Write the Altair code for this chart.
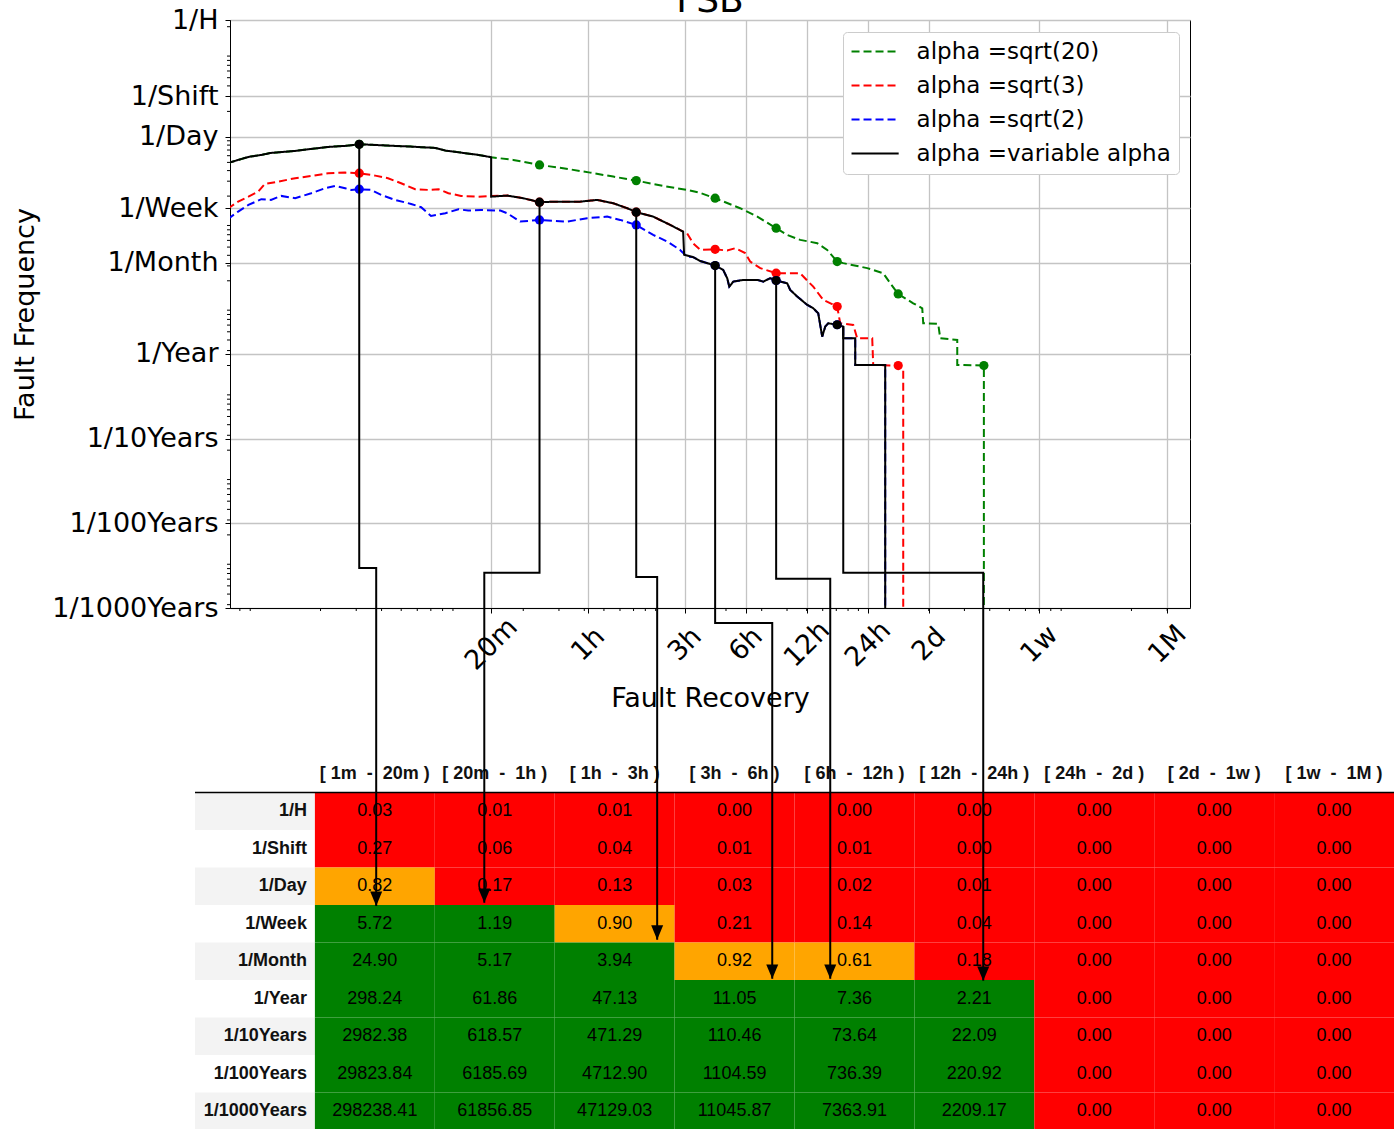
import altair as alt
import pandas as pd

# ---------------- data ----------------
series_names = ["alpha =sqrt(20)", "alpha =sqrt(3)", "alpha =sqrt(2)", "alpha =variable alpha"]
series_colors = ["#008000", "#ff0000", "#0000ff", "#000000"]

# recovery time in minutes, fault frequency in faults per year
green_t = [1.0, 1.13, 1.27, 1.47, 1.64, 2.16, 2.59, 3.14, 3.81, 4.47, 4.94, 6.72, 8.06, 10.6, 11.9,
           14.2, 17.3, 20.0, 25.7, 34.64, 45.3, 61.6, 80.0, 103.9, 141, 185, 215, 254.6, 338, 411,
           509.1, 577, 669, 812, 909, 1018.2, 1091, 1432, 1718, 1860, 2036, 2416, 2676, 2706, 3208,
           3282, 3982, 3982, 5388, 5388]
green_f = [178.4, 195.2, 211.8, 223.6, 236.1, 249.3, 263.2, 277.9, 285.6, 298.24, 295.8, 285.6, 280.3,
           270.4, 251.3, 238.1, 223.6, 210.1, 195.2, 170.3, 155.7, 138.2, 124.0, 111.2, 96.3, 86.4,
           79.6, 68.9, 52.5, 41.8, 30.5, 25.4, 22.2, 20.3, 16.9, 12.3, 11.8, 10.3, 8.97, 6.83, 5.11,
           3.96, 3.46, 2.30, 2.26, 1.53, 1.46, 0.741, 0.73, 0.0001]

red_t = [1.0, 1.13, 1.27, 1.42, 1.53, 1.78, 2.16, 2.59, 3.14, 3.81, 4.47, 5.36, 6.20, 7.19, 8.44,
         9.78, 11.0, 12.3, 14.2, 17.3, 20.0, 24.0, 28.8, 34.64, 42.3, 55.0, 66.7, 80.0, 93.8, 103.9,
         126, 153, 177, 185, 198, 215, 254.6, 292, 320, 358, 379, 425, 509.1, 597, 669, 733, 776,
         869, 1018.2, 1054, 1222, 1278, 1516, 1533, 2036, 2156, 2156]
red_f = [51.5, 62.8, 71.9, 82.5, 101.6, 108.2, 118.7, 126.3, 135.9, 138.2, 136.0, 127.4, 118.7, 103.6,
         88.0, 86.4, 88.0, 78.9, 73.4, 71.9, 73.4, 74.0, 68.9, 61.86, 62.8, 62.8, 65.8, 60.1, 52.5,
         47.13, 41.8, 33.3, 27.8, 26.6, 20.3, 16.9, 17.2, 16.6, 17.7, 15.5, 12.3, 10.3, 8.97, 8.97,
         8.97, 7.14, 6.23, 4.34, 3.62, 2.30, 2.20, 1.53, 1.53, 0.741, 0.728, 0.678, 0.0001]

blue_t = [1.0, 1.13, 1.27, 1.47, 1.64, 1.84, 2.16, 2.59, 3.03, 3.40, 3.81, 4.08, 4.47, 5.12, 5.73,
          6.72, 8.06, 9.03, 10.1, 11.9, 13.8, 15.4, 17.9, 22.2, 24.0, 27.8, 34.64, 47.4, 59.5, 74.7,
          86.6, 103.9, 126, 148, 171, 185, 198, 215, 254.6, 279, 292, 299, 313, 350, 411, 440, 476,
          509.1, 577, 597, 647, 725, 776, 821, 859, 889, 920, 1018.2, 1091, 1091, 1250, 1250, 1757,
          1757]
blue_f = [38.9, 47.9, 57.4, 67.1, 65.8, 73.4, 68.9, 78.9, 90.4, 96.3, 90.4, 86.4, 88.0, 86.4, 75.4,
          65.8, 59.0, 54.0, 42.6, 45.8, 51.1, 49.2, 50.1, 49.2, 45.8, 36.5, 38.2, 36.5, 40.0, 41.8,
          38.2, 33.3, 25.4, 21.2, 16.9, 14.1, 13.9, 12.5, 11.05, 9.81, 7.83, 6.23, 7.14, 7.48, 7.48,
          7.14, 7.83, 7.36, 6.83, 5.70, 4.75, 3.79, 3.46, 3.02, 1.60, 2.10, 2.30, 2.21, 2.10, 1.53,
          1.53, 0.741, 0.741, 0.0001]

black_t = [1.0, 1.13, 1.27, 1.47, 1.64, 2.16, 2.59, 3.14, 3.81, 4.47, 4.94, 6.72, 8.06, 10.6, 11.9,
           14.2, 17.3, 20.0, 20.0, 24.0, 28.8, 34.64, 42.3, 55.0, 66.7, 80.0, 93.8, 103.9, 126, 153,
           177, 179, 198, 215, 254.6, 279, 292, 299, 313, 350, 411, 440, 476, 509.1, 577, 597, 647,
           725, 776, 821, 859, 889, 920, 1018.2, 1091, 1091, 1250, 1250, 1757, 1757]
black_f = [178.4, 195.2, 211.8, 223.6, 236.1, 249.3, 263.2, 277.9, 285.6, 298.24, 295.8, 285.6, 280.3,
           270.4, 251.3, 238.1, 223.6, 210.1, 71.9, 74.0, 68.9, 61.86, 62.8, 62.8, 65.8, 60.1, 52.5,
           47.13, 41.8, 33.3, 27.8, 14.8, 13.9, 12.5, 11.05, 9.81, 7.83, 6.23, 7.14, 7.48, 7.48, 7.14,
           7.83, 7.36, 6.83, 5.70, 4.75, 3.79, 3.46, 3.02, 1.60, 2.10, 2.30, 2.21, 2.10, 1.53, 1.53,
           0.741, 0.741, 0.0001]

# markers at the interval mid-points
point_t = [4.47, 34.64, 103.9, 254.6, 509.1, 1018.2, 2036, 5388]
green_pts = [298.24, 170.3, 111.2, 68.9, 30.5, 12.3, 5.11, 0.73]
red_pts = [136.0, 61.86, 47.13, 17.2, 8.97, 3.62, 0.728]
blue_pts = [88.0, 38.2, 33.3, 11.05, 7.36, 2.21]
black_pts = [298.24, 61.86, 47.13, 11.05, 7.36, 2.21]

# arrows from the variable-alpha markers down into the table
arrow_t = [[4.47, 4.47, 5.42, 5.42],
           [34.64, 34.64, 18.5, 18.5],
           [103.9, 103.9, 131.8, 131.8],
           [254.6, 254.6, 487, 487],
           [509.1, 509.1, 941, 941],
           [1091, 1091, 5349, 5349]]
arrow_f = [[298.24, 0.00297, 0.00297, 3.04e-7],
           [61.86, 0.0026, 0.0026, 3.30e-7],
           [47.13, 0.00233, 0.00233, 1.21e-7],
           [11.05, 0.000667, 0.000667, 4.18e-8],
           [7.36, 0.00221, 0.00221, 4.18e-8],
           [2.14, 0.0026, 0.0026, 3.96e-8]]

xtick_values = [20, 60, 180, 360, 720, 1440, 2880, 10080, 43200]
xtick_labels = ["20m", "1h", "3h", "6h", "12h", "24h", "2d", "1w", "1M"]
ytick_values = [8760, 1095, 365, 52.14, 12, 1, 0.1, 0.01, 0.001]
ytick_labels = ["1/H", "1/Shift", "1/Day", "1/Week", "1/Month", "1/Year", "1/10Years",
                "1/100Years", "1/1000Years"]

table_rows = ["1/H", "1/Shift", "1/Day", "1/Week", "1/Month", "1/Year", "1/10Years",
              "1/100Years", "1/1000Years"]
table_cols = ["[ 1m  -  20m )", "[ 20m  -  1h )", "[ 1h  -  3h )", "[ 3h  -  6h )",
              "[ 6h  -  12h )", "[ 12h  -  24h )", "[ 24h  -  2d )", "[ 2d  -  1w )", "[ 1w  -  1M )"]
table_values = [
    [0.03, 0.01, 0.01, 0.00, 0.00, 0.00, 0.00, 0.00, 0.00],
    [0.27, 0.06, 0.04, 0.01, 0.01, 0.00, 0.00, 0.00, 0.00],
    [0.82, 0.17, 0.13, 0.03, 0.02, 0.01, 0.00, 0.00, 0.00],
    [5.72, 1.19, 0.90, 0.21, 0.14, 0.04, 0.00, 0.00, 0.00],
    [24.90, 5.17, 3.94, 0.92, 0.61, 0.18, 0.00, 0.00, 0.00],
    [298.24, 61.86, 47.13, 11.05, 7.36, 2.21, 0.00, 0.00, 0.00],
    [2982.38, 618.57, 471.29, 110.46, 73.64, 22.09, 0.00, 0.00, 0.00],
    [29823.84, 6185.69, 4712.90, 1104.59, 736.39, 220.92, 0.00, 0.00, 0.00],
    [298238.41, 61856.85, 47129.03, 11045.87, 7363.91, 2209.17, 0.00, 0.00, 0.00],
]

# minor log ticks (2..9 x 10^k in days for time, per day for frequency)
MIN_PER_DAY = 1440
DAYS_PER_YEAR = 365
xminor = [m * 10.0 ** k * MIN_PER_DAY for k in range(-4, 2) for m in range(2, 10)
          if 1.03 <= m * 10.0 ** k * MIN_PER_DAY <= 56000]
yminor = [m * 10.0 ** k * DAYS_PER_YEAR for k in range(-6, 2) for m in range(2, 10)
          if 0.001 <= m * 10.0 ** k * DAYS_PER_YEAR <= 8760]

# ---------------- frames ----------------
NB = "\u00a0"
col_keys = [c.replace(" ", NB) for c in table_cols]

line_rows = []
for name, ts, fs in zip(series_names, [green_t, red_t, blue_t, black_t],
                        [green_f, red_f, blue_f, black_f]):
    for i, (t, f) in enumerate(zip(ts, fs)):
        line_rows.append({"series": name, "i": i, "t": t, "f": f})
lines_df = pd.DataFrame(line_rows)

pt_rows = []
for name, fs in zip(series_names, [green_pts, red_pts, blue_pts, black_pts]):
    for t, f in zip(point_t, fs):
        pt_rows.append({"series": name, "t": t, "f": f})
pts_df = pd.DataFrame(pt_rows)

arr_rows = []
for k, (ts, fs) in enumerate(zip(arrow_t, arrow_f)):
    for i, (t, f) in enumerate(zip(ts, fs)):
        arr_rows.append({"arrow": k, "i": i, "t": t, "f": f})
arr_df = pd.DataFrame(arr_rows)
head_df = arr_df[arr_df["i"] == 3]

cell_rows = []
for r, vals in zip(table_rows, table_values):
    for c, v in zip(col_keys, vals):
        cell_rows.append({"row": r, "col": c, "v": v})
cells_df = pd.DataFrame(cell_rows)
header_df = pd.DataFrame({"row": ["header"] * len(col_keys), "col": col_keys})
rowlab_df = pd.DataFrame({"row": table_rows, "col": ["label"] * len(table_rows),
                          "k": list(range(len(table_rows)))})

# ---------------- scales / axes ----------------
xscale = alt.Scale(type="log", domain=[1.03, 56000], nice=False)
yscale = alt.Scale(type="log", domain=[0.001, 8760], nice=False)
cscale = alt.Scale(domain=series_names, range=series_colors)
dscale = alt.Scale(domain=series_names, range=[[8, 4], [8, 4], [8, 4], [1, 0]])

xexpr = "[" + ",".join("'%s'" % l for l in xtick_labels) + "][indexof([" + \
        ",".join(repr(v) for v in xtick_values) + "], datum.value)]"
yexpr = "[" + ",".join("'%s'" % l for l in ytick_labels) + "][indexof([" + \
        ",".join(repr(v) for v in ytick_values) + "], datum.value)]"

FONT = "DejaVu Sans"
xaxis = alt.Axis(orient="bottom", values=xtick_values, labelExpr=xexpr, labelAngle=315,
                 labelAlign="center", labelBaseline="middle", labelPadding=31, tickSize=5,
                 labelFontSize=27, labelFont=FONT, labelOverlap=False, labelFlush=False,
                 grid=True, gridColor="#c4c4c4", gridWidth=1.3, domainColor="black",
                 tickColor="black", labelColor="black", title="Fault Recovery",
                 titleFontSize=27, titleFont=FONT, titleFontWeight="normal", titleY=90,
                 titleBaseline="middle", titleColor="black")
yaxis = alt.Axis(orient="left", values=ytick_values, labelExpr=yexpr, tickSize=5, labelPadding=7,
                 labelFontSize=27, labelFont=FONT, labelOverlap=False, grid=True,
                 gridColor="#c4c4c4", gridWidth=1.3, domainColor="black", tickColor="black",
                 labelColor="black", title="Fault Frequency", titleFontSize=27, titleFont=FONT,
                 titleFontWeight="normal", titleAngle=270, titleX=-205, titleY=294,
                 titleAlign="center", titleBaseline="middle", titleColor="black")

legend = alt.Legend(title=None, orient="none", legendX=613, legendY=12,
                    symbolType="M-4,0H4", symbolSize=139, symbolOffset=12.6,
                    symbolStrokeWidth=2, labelFontSize=23, labelFont=FONT, labelColor="black",
                    labelOffset=30, labelLimit=400, padding=8, rowPadding=10, fillColor="white",
                    strokeColor="#cccccc", cornerRadius=4)

X = alt.X("t:Q", scale=xscale, axis=xaxis)
Y = alt.Y("f:Q", scale=yscale, axis=yaxis)

layers = []
for name in series_names:
    layers.append(
        alt.Chart(lines_df).transform_filter(alt.datum.series == name)
        .mark_line(strokeWidth=2, clip=True)
        .encode(x=X, y=Y,
                color=alt.Color("series:N", scale=cscale, legend=legend),
                strokeDash=alt.StrokeDash("series:N", scale=dscale, legend=legend),
                order=alt.Order("i:Q"))
    )
for name in series_names:
    layers.append(
        alt.Chart(pts_df).transform_filter(alt.datum.series == name)
        .mark_circle(size=85, opacity=1, clip=True)
        .encode(x=X, y=Y, color=alt.Color("series:N", scale=cscale, legend=None))
    )
# minor ticks
layers.append(
    alt.Chart(pd.DataFrame({"t": xminor})).mark_rule(color="black", strokeWidth=1)
    .encode(x=X, y=alt.value(588), y2=alt.value(591))
)
layers.append(
    alt.Chart(pd.DataFrame({"f": yminor})).mark_rule(color="black", strokeWidth=1)
    .encode(y=Y, x=alt.value(0), x2=alt.value(-3))
)
layers.append(
    alt.Chart(arr_df).mark_line(color="black", strokeWidth=2, clip=False)
    .encode(x=X, y=Y, detail="arrow:N", order=alt.Order("i:Q"))
)
layers.append(
    alt.Chart(head_df).mark_point(shape="M0,0L-0.5,-1.2L0.5,-1.2Z", filled=True, size=576,
                                  color="black", opacity=1, clip=False)
    .encode(x=X, y=Y)
)
layers.append(
    alt.Chart(pd.DataFrame({"title": ["FSB"]}))
    .mark_text(font=FONT, fontSize=36, baseline="alphabetic", align="center", color="black")
    .encode(text="title:N", x=alt.value(480), y=alt.value(-8))
)
plot = alt.layer(*layers)

# ---------------- table ----------------
tx = alt.Scale(type="band", domain=["label"] + col_keys, range=[-35, 1164],
               paddingInner=0, paddingOuter=0)
ty = alt.Scale(type="band", domain=["header"] + table_rows, range=[735, 1110],
               paddingInner=0, paddingOuter=0)
TX = alt.X("col:N", scale=tx, axis=None)
TY = alt.Y("row:N", scale=ty, axis=None)

cells = alt.Chart(cells_df).mark_rect().encode(
    x=TX, y=TY,
    fill=alt.Fill("v:Q", scale=alt.Scale(type="threshold", domain=[0.5, 1],
                                          range=["#ff0000", "#ffa500", "#008000"]), legend=None))
cell_text = alt.Chart(cells_df).mark_text(font="Liberation Sans", fontSize=18, color="black").encode(
    x=TX, y=TY, text=alt.Text("v:Q", format=".2f"))
label_bg = alt.Chart(rowlab_df).transform_filter("datum.k % 2 == 0").mark_rect(color="#f3f3f3").encode(
    x=TX, y=TY)
label_text = alt.Chart(rowlab_df).mark_text(font="Liberation Sans", fontSize=18, fontWeight="bold",
                                            align="right", dx=-8, color="#111111").encode(
    x=alt.X("col:N", scale=tx, axis=None, bandPosition=1), y=TY, text="row:N")
header_text = alt.Chart(header_df).mark_text(font="Liberation Sans", fontSize=18, fontWeight="bold",
                                             color="#111111").encode(
    x=TX, y=TY, text="col:N")
header_rule = alt.Chart(pd.DataFrame({"row": [table_rows[0]]})).mark_rule(
    color="black", strokeWidth=1.5).encode(
    x=alt.value(-35), x2=alt.value(1180),
    y=alt.Y("row:N", scale=ty, axis=None, bandPosition=0))

table = alt.layer(label_bg, cells, cell_text, label_text, header_text, header_rule)

chart = alt.layer(table, plot).resolve_scale(x="independent", y="independent").properties(
    width=960, height=588,
    autosize=alt.AutoSizeParams(type="none"),
    padding={"left": 230, "top": 20, "right": 204, "bottom": 521},
    background="white",
).configure_view(stroke="black", strokeWidth=1)

chart.save("out.html", embed_options={"renderer": "svg", "actions": False})
